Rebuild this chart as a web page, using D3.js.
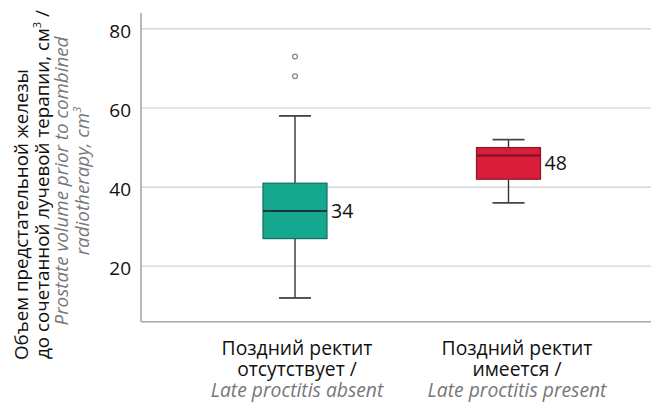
<!DOCTYPE html>
<html>
<head>
<meta charset="utf-8">
<script src="https://cdn.jsdelivr.net/npm/d3@7"></script>
<style>
  html, body { margin: 0; padding: 0; background: #fff; }
  svg { display: block; font-family: "Open Sans", "Noto Sans", sans-serif; }
</style>
</head>
<body>
<svg id="chart" width="651" height="402"></svg>
<script>
// Group labels (Russian two lines + English line)
const groupKeys = ["absent", "present"];
const labelRu1 = ["Поздний ректит", "Поздний ректит"];
const labelRu2 = ["отсутствует /", "имеется /"];
const labelEn = ["Late proctitis absent", "Late proctitis present"];

// Box-plot statistics, cm³
const whiskerLow = [12, 36];
const q1 = [27, 42];
const median = [34, 48];
const q3 = [41, 50];
const whiskerHigh = [58, 52];
const outliers = [[73, 68], []];

const yTicks = [20, 40, 60, 80];

const fills = ["#15a88f", "#d81e3a"];
const strokes = ["#0e6f60", "#8f1425"];
const medianColors = ["#10363a", "#7a1020"];

const svg = d3.select("#chart");

const plot = { left: 141, right: 651, top: 13, bottom: 321.7 };

const y = d3.scaleLinear().domain([6, 84]).range([plot.bottom, plot.top]);
const x = d3.scalePoint().domain(groupKeys).range([295, 508.5]);
// category captions sit slightly wider apart than the boxes
const xLabel = d3.scalePoint().domain(groupKeys).range([297, 517]);

const boxW = 64, capW = 32;

// Gridlines
svg.append("g").selectAll("line").data(yTicks).join("line")
  .attr("x1", plot.left).attr("x2", plot.right)
  .attr("y1", d => y(d)).attr("y2", d => y(d))
  .attr("stroke", "#dcdcdc").attr("stroke-width", 1.6);

// Axis lines
svg.append("line").attr("x1", plot.left).attr("x2", plot.left)
  .attr("y1", plot.top).attr("y2", plot.bottom)
  .attr("stroke", "#a8a8a8").attr("stroke-width", 1.6);
svg.append("line").attr("x1", plot.left).attr("x2", plot.right)
  .attr("y1", plot.bottom).attr("y2", plot.bottom)
  .attr("stroke", "#a8a8a8").attr("stroke-width", 1.6);

// Y tick labels
const yAxis = d3.axisLeft(y).tickValues(yTicks).tickSize(0).tickPadding(0);
const ya = svg.append("g").attr("transform", `translate(131,0)`).call(yAxis);
ya.select(".domain").remove();
ya.selectAll("text")
  .attr("font-size", 19).attr("fill", "#111")
  .attr("font-family", "'Open Sans', sans-serif")
  .attr("dy", "0.45em");

// Boxes
const groups = svg.append("g").selectAll("g").data(groupKeys).join("g");

groups.each(function(k, i) {
  const g = d3.select(this);
  const cx = x(k);
  // whisker stems
  g.append("line").attr("x1", cx).attr("x2", cx)
    .attr("y1", y(q3[i])).attr("y2", y(whiskerHigh[i]))
    .attr("stroke", "#333").attr("stroke-width", 1.4);
  g.append("line").attr("x1", cx).attr("x2", cx)
    .attr("y1", y(q1[i])).attr("y2", y(whiskerLow[i]))
    .attr("stroke", "#333").attr("stroke-width", 1.4);
  // caps
  [whiskerHigh[i], whiskerLow[i]].forEach(v => {
    g.append("line").attr("x1", cx - capW / 2).attr("x2", cx + capW / 2)
      .attr("y1", y(v)).attr("y2", y(v))
      .attr("stroke", "#444").attr("stroke-width", 1.8);
  });
  // box
  g.append("rect")
    .attr("x", cx - boxW / 2).attr("width", boxW)
    .attr("y", y(q3[i])).attr("height", y(q1[i]) - y(q3[i]))
    .attr("fill", fills[i]).attr("stroke", strokes[i]).attr("stroke-width", 1.2);
  // median
  g.append("line").attr("x1", cx - boxW / 2).attr("x2", cx + boxW / 2)
    .attr("y1", y(median[i])).attr("y2", y(median[i]))
    .attr("stroke", medianColors[i]).attr("stroke-width", 2);
  // outliers
  g.selectAll("circle").data(outliers[i]).join("circle")
    .attr("cx", cx).attr("cy", d => y(d)).attr("r", 2.4)
    .attr("fill", "#fff").attr("stroke", "#8a8a8a").attr("stroke-width", 1.3);
  // median value label
  g.append("text")
    .attr("x", cx + boxW / 2 + 4)
    .attr("y", y((q1[i] + q3[i]) / 2))
    .attr("dy", "0.36em")
    .attr("font-size", 19.5).attr("fill", "#111")
    .text(median[i]);
});

// X category labels
const xl = svg.append("g").selectAll("text").data(groupKeys).join("text")
  .attr("text-anchor", "middle").attr("font-size", 19.3);
xl.append("tspan").attr("x", d => xLabel(d)).attr("y", 355).attr("fill", "#111")
  .text((d, i) => labelRu1[i]);
xl.append("tspan").attr("x", d => xLabel(d)).attr("y", 376).attr("fill", "#111")
  .text((d, i) => labelRu2[i]);
xl.append("tspan").attr("x", d => xLabel(d)).attr("y", 397).attr("fill", "#777")
  .attr("font-style", "italic").text((d, i) => labelEn[i]);

// Y axis title (rotated)
const tSize = 18.8;
const title = svg.append("g").attr("transform", "rotate(-90)");
title.append("text").attr("x", -360).attr("y", 28)
  .attr("font-size", tSize).attr("fill", "#111")
  .text("Объем предстательной железы");
const t2 = title.append("text").attr("x", -359).attr("y", 49)
  .attr("font-size", tSize).attr("fill", "#111");
t2.append("tspan").text("до сочетанной лучевой терапии, см");
t2.append("tspan").attr("font-size", 11).attr("dy", -8).text("3");
t2.append("tspan").attr("dy", 8).text(" /");
title.append("text").attr("x", -181).attr("y", 68)
  .attr("text-anchor", "middle").attr("font-size", tSize)
  .attr("font-style", "italic").attr("fill", "#777")
  .text("Prostate volume prior to combined");
const t4 = title.append("text").attr("x", -181).attr("y", 89)
  .attr("text-anchor", "middle").attr("font-size", tSize)
  .attr("font-style", "italic").attr("fill", "#777");
t4.append("tspan").text("radiotherapy, cm");
t4.append("tspan").attr("font-size", 11).attr("dy", -8).text("3");
</script>
</body>
</html>
